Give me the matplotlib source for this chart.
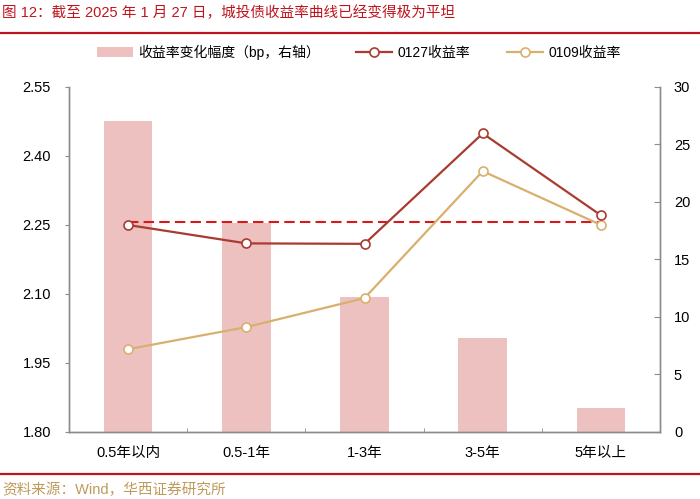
import numpy as np
import matplotlib
matplotlib.use("Agg")
import matplotlib.pyplot as plt
from matplotlib.lines import Line2D

plt.rcParams['font.family'] = ['Liberation Sans', 'Noto Sans CJK SC', 'DejaVu Sans']

categories = ['0.5年以内', '0.5-1年', '1-3年', '3-5年', '5年以上']
yield_0127 = [2.250, 2.210, 2.209, 2.449, 2.271]
yield_0109 = [1.980, 2.028, 2.091, 2.367, 2.250]
change_bp = [27.0, 18.2, 11.7, 8.2, 2.1]
ref_level = 2.256

left_ticks = [1.80, 1.95, 2.10, 2.25, 2.40, 2.55]
right_ticks = [0, 5, 10, 15, 20, 25, 30]

c_bar = '#EEC1C1'
c_0127 = '#A93B30'
c_0109 = '#D8B06E'
c_dash = '#D7191C'
c_title = '#C0141C'
c_src = '#BF9A5A'
c_axis = '#8C8C8C'

fig = plt.figure(figsize=(7, 4.99), dpi=100)
ax = fig.add_axes([0.0986, 0.1343, 0.8443, 0.6914])
ax2 = ax.twinx()

x = np.arange(len(categories))
bars = ax2.bar(x, change_bp, width=0.41, color=c_bar, zorder=1)
ax2.set_ylim(0, 30)
ax2.set_yticks(right_ticks)

# lines above the bars
ax.set_zorder(ax2.get_zorder() + 1)
ax.patch.set_visible(False)

ax.hlines(ref_level, x[0], x[-1], colors=c_dash, linewidth=1.5,
          linestyles=(0, (5, 2.5)), zorder=2)
l1, = ax.plot(x, yield_0127, color=c_0127, lw=1.6, marker='o', ms=6.5,
              mfc='white', mec=c_0127, mew=1.2, zorder=4)
l2, = ax.plot(x, yield_0109, color=c_0109, lw=1.6, marker='o', ms=6.5,
              mfc='white', mec=c_0109, mew=1.2, zorder=3)

ax.set_xlim(-0.5, len(categories) - 0.5)
ax.set_ylim(1.80, 2.55)
ax.set_yticks(left_ticks)
ax.set_yticklabels(['%.2f' % v for v in left_ticks])
ax.set_xticks(x)
ax.set_xticklabels(categories)
ax.set_xticks(np.arange(len(categories) + 1) - 0.5, minor=True)
ax.tick_params(axis='x', which='major', length=0, pad=10, labelsize=10.5)
ax.tick_params(axis='x', which='minor', length=3, direction='in', color=c_axis)
ax.tick_params(axis='y', length=3, direction='out', color=c_axis, labelsize=10.5, pad=10)
ax2.tick_params(axis='y', length=4, direction='in', color=c_axis, labelsize=10.5, pad=10)

for a in (ax, ax2):
    a.spines['top'].set_visible(False)
    for s in ('left', 'right', 'bottom'):
        a.spines[s].set_color(c_axis)
        a.spines[s].set_linewidth(1.0)

leg = ax.legend([bars, l1, l2], ['收益率变化幅度（bp，右轴）', '0127收益率', '0109收益率'],
                ncol=3, frameon=False, loc='center', bbox_to_anchor=(0.49, 1.1),
                handlelength=2.6, columnspacing=2.6, handletextpad=0.4,
                prop={'family': ['Liberation Sans', 'Noto Sans CJK SC'], 'size': 10})

fig.text(0.003, 0.975, '图 12：截至 2025 年 1 月 27 日，城投债收益率曲线已经变得极为平坦',
         color=c_title, fontsize=10.5, va='center', ha='left',
         family=['Liberation Sans', 'Noto Sans CJK SC'])
fig.add_artist(Line2D([0, 1], [0.934, 0.934], color=c_title, lw=1.6,
                      transform=fig.transFigure))
fig.add_artist(Line2D([0, 1], [0.050, 0.050], color=c_title, lw=1.6,
                      transform=fig.transFigure))
fig.text(0.003, 0.018, '资料来源：Wind，华西证券研究所', color=c_src, fontsize=10.5,
         va='center', ha='left', family=['Liberation Sans', 'Noto Sans CJK SC'])

fig.savefig('out.png', dpi=100)
